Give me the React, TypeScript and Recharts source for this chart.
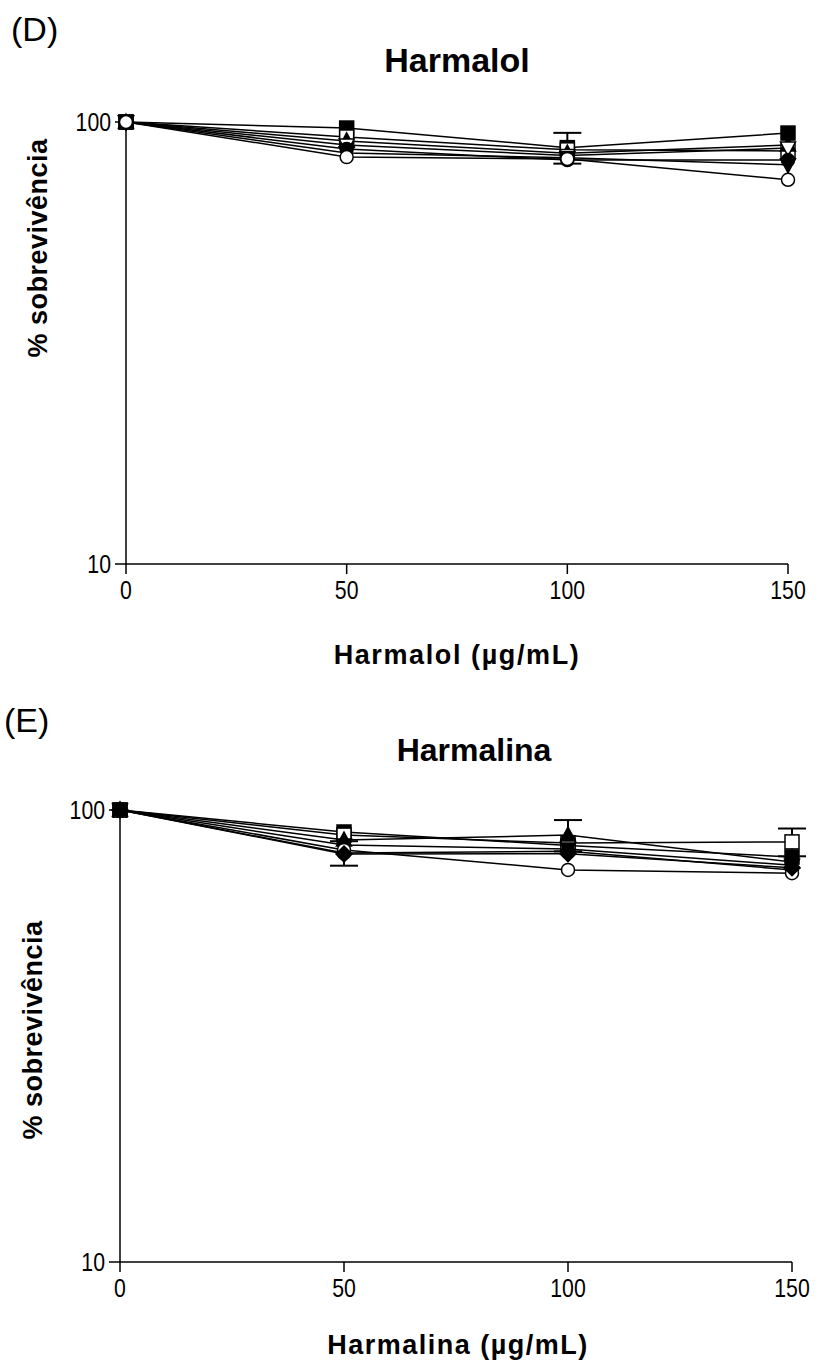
import React from 'react'
import { LineChart, Line, XAxis, YAxis, ErrorBar } from 'recharts'

const doses = [0, 50, 100, 150]
const xTicks = [0, 50, 100, 150]
const yTicks = [10, 100]

// Harmalol (D)
const dSquare = [100, 96.9, 87.5, 94.4]
const dOpenSquare = [100, 92.5, 86.5, 86]
const dTriangle = [100, 90.6, 85, 88.7]
const dOpenTriDown = [100, 88.7, 84, 87.3]
const dCircle = [100, 86.9, 82, 82]
const dTriDown = [100, 85.1, 83, 80]
const dOpenCircle = [100, 83.3, 82.5, 74]
const dSquareErr = [0, 0, 7, 0]

// Harmalina (E)
const eSquare = [100, 89.4, 83.5, 78.7]
const eOpenSquare = [100, 88, 84.5, 85]
const eTriangle = [100, 85.8, 88, 76.7]
const eTriDown = [100, 83.7, 82, 75.5]
const eCircle = [100, 80.3, 81, 73.7]
const eOpenCircle = [100, 81.6, 73.7, 72.5]
const eDiamond = [100, 79.9, 80, 74.5]
const eTriangleErr = [0, 0, 7, 0]
const eCircleErr = [0, 5, 0, 0]
const eOpenSquareErr = [0, 0, 0, 6]

type Shape = 'square' | 'triangle' | 'triDown' | 'circle' | 'diamond'
interface Series {
  key: string
  shape: Shape
  filled: boolean
  values: number[]
  err?: number[]
}

const harmalolSeries: Series[] = [
  { key: 'a', shape: 'square', filled: true, values: dSquare, err: dSquareErr },
  { key: 'b', shape: 'square', filled: false, values: dOpenSquare },
  { key: 'c', shape: 'triangle', filled: true, values: dTriangle },
  { key: 'd', shape: 'triDown', filled: false, values: dOpenTriDown },
  { key: 'e', shape: 'circle', filled: true, values: dCircle },
  { key: 'f', shape: 'triDown', filled: true, values: dTriDown },
  { key: 'g', shape: 'circle', filled: false, values: dOpenCircle },
]

const harmalinaSeries: Series[] = [
  { key: 'a', shape: 'square', filled: true, values: eSquare },
  { key: 'b', shape: 'square', filled: false, values: eOpenSquare, err: eOpenSquareErr },
  { key: 'c', shape: 'triangle', filled: true, values: eTriangle, err: eTriangleErr },
  { key: 'd', shape: 'triDown', filled: true, values: eTriDown },
  { key: 'e', shape: 'circle', filled: true, values: eCircle, err: eCircleErr },
  { key: 'f', shape: 'circle', filled: false, values: eOpenCircle },
  { key: 'g', shape: 'diamond', filled: true, values: eDiamond },
]

const font = 'Arial, "Liberation Sans", sans-serif'

function buildRows(series: Series[]) {
  return doses.map((x, i) => {
    const row: Record<string, number> = { x }
    series.forEach((s) => {
      row[s.key] = s.values[i]
      if (s.err) row[s.key + '_err'] = s.err[i]
    })
    return row
  })
}

function makeDot(shape: Shape, filled: boolean) {
  return (props: any) => {
    const { cx, cy, index } = props
    if (cx == null || cy == null) return <g key={index} />
    const fill = filled ? '#000' : '#fff'
    const common = { fill, stroke: '#000', strokeWidth: 1.5 }
    if (shape === 'square') {
      return <rect key={index} x={cx - 7} y={cy - 7} width={14} height={14} {...common} />
    }
    if (shape === 'circle') {
      return <circle key={index} cx={cx} cy={cy} r={6.5} {...common} />
    }
    if (shape === 'triangle') {
      return <path key={index} d={`M${cx},${cy - 8}L${cx + 7.5},${cy + 6}L${cx - 7.5},${cy + 6}Z`} {...common} />
    }
    if (shape === 'triDown') {
      return <path key={index} d={`M${cx},${cy + 8}L${cx + 7.5},${cy - 6}L${cx - 7.5},${cy - 6}Z`} {...common} />
    }
    return <path key={index} d={`M${cx},${cy - 8}L${cx + 8},${cy}L${cx},${cy + 8}L${cx - 8},${cy}Z`} {...common} />
  }
}

// tick digits in the original are tall and narrow
function XTick(props: any) {
  const { x, y, payload } = props
  return (
    <g transform={`translate(${x},${y}) scale(0.85,1)`}>
      <text x={0} y={0} dy={23} textAnchor="middle" fill="#000" fontSize={25} fontFamily={font}>
        {payload.value}
      </text>
    </g>
  )
}

function YTick(props: any) {
  const { x, y, payload } = props
  return (
    <g transform={`translate(${x},${y}) scale(0.85,1)`}>
      <text x={0} y={0} dy={9} textAnchor="end" fill="#000" fontSize={25} fontFamily={font}>
        {payload.value}
      </text>
    </g>
  )
}

interface PanelProps {
  top: number
  series: Series[]
  plotLeft: number
  plotRight: number
  plotTop: number
  plotBottom: number
}

function Panel({ top, series, plotLeft, plotRight, plotTop, plotBottom }: PanelProps) {
  const width = 821
  const height = 640
  const yAxisWidth = 60
  const xAxisHeight = 40
  const rows = buildRows(series)
  return (
    <div style={{ position: 'absolute', left: 0, top }}>
      <LineChart
        width={width}
        height={height}
        data={rows}
        margin={{
          top: plotTop,
          left: plotLeft - yAxisWidth,
          right: width - plotRight,
          bottom: height - plotBottom - xAxisHeight,
        }}
      >
        <XAxis
          type="number"
          dataKey="x"
          domain={[0, 150]}
          ticks={xTicks}
          height={xAxisHeight}
          stroke="#000"
          strokeWidth={1.5}
          tickSize={10}
          tickMargin={2}
          tick={<XTick />}
        />
        <YAxis
          scale="log"
          domain={[10, 100]}
          ticks={yTicks}
          width={yAxisWidth}
          stroke="#000"
          strokeWidth={1.5}
          tickSize={11}
          tickMargin={4}
          tick={<YTick />}
        />
        {series.map((s) => (
          <Line
            key={s.key}
            dataKey={s.key}
            stroke="#000"
            strokeWidth={1.5}
            dot={makeDot(s.shape, s.filled)}
            isAnimationActive={false}
          >
            {s.err && (
              <ErrorBar dataKey={s.key + '_err'} width={14} stroke="#000" strokeWidth={2} direction="y" />
            )}
          </Line>
        ))}
      </LineChart>
    </div>
  )
}

const textBase: React.CSSProperties = {
  position: 'absolute',
  fontFamily: font,
  color: '#000',
  whiteSpace: 'nowrap',
  lineHeight: 1,
}

function CenteredText({ x, y, size, bold, spacing, text }: { x: number; y: number; size: number; bold?: boolean; spacing?: number; text: string }) {
  return (
    <div
      style={{
        ...textBase,
        left: x,
        top: y,
        fontSize: size,
        fontWeight: bold ? 'bold' : 'normal',
        letterSpacing: spacing ?? 0,
        transform: 'translate(-50%, -50%)',
      }}
    >
      {text}
    </div>
  )
}

function YLabel({ x, y, text }: { x: number; y: number; text: string }) {
  return (
    <div
      style={{
        ...textBase,
        left: x,
        top: y,
        fontSize: 27,
        fontWeight: 'bold',
        letterSpacing: 0.5,
        transform: 'translate(-50%, -50%) rotate(-90deg)',
      }}
    >
      {text}
    </div>
  )
}

export default function App() {
  return (
    <div style={{ position: 'absolute', left: 0, top: 0, width: 821, height: 1367, background: '#fff' }}>
      <Panel top={0} series={harmalolSeries} plotLeft={126} plotRight={788} plotTop={122} plotBottom={564} />
      <Panel top={700} series={harmalinaSeries} plotLeft={120} plotRight={792} plotTop={110} plotBottom={562} />

      <div style={{ ...textBase, left: 11, top: 12, fontSize: 34 }}>(D)</div>
      <CenteredText x={457} y={60} size={34} bold text="Harmalol" />
      <YLabel x={38} y={248} text="% sobrevivência" />
      <CenteredText x={457} y={655} size={27} bold spacing={1.6} text="Harmalol (µg/mL)" />

      <div style={{ ...textBase, left: 4, top: 703, fontSize: 34 }}>(E)</div>
      <CenteredText x={474} y={750} size={32} bold text="Harmalina" />
      <YLabel x={33} y={1030} text="% sobrevivência" />
      <CenteredText x={458} y={1345} size={27} bold spacing={1.5} text="Harmalina (µg/mL)" />
    </div>
  )
}
